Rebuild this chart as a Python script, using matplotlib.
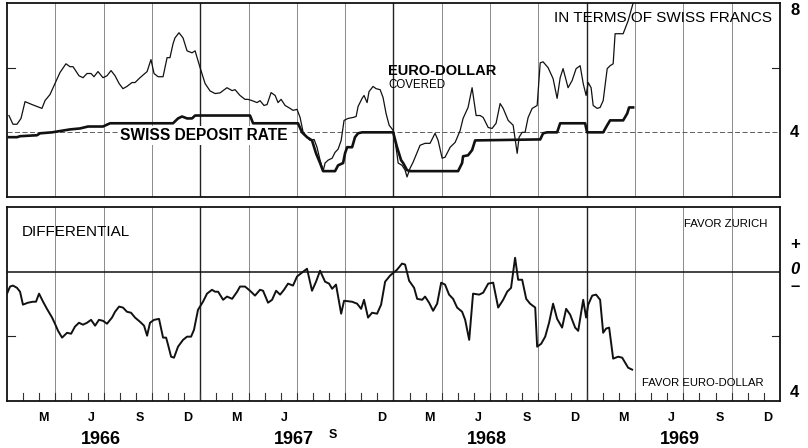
import matplotlib
matplotlib.use("Agg")
import matplotlib.pyplot as plt
import matplotlib.transforms as mtransforms
import numpy as np

plt.rcParams['font.family'] = ['Liberation Sans', 'DejaVu Sans']

# Months since Jan 1966
euro_m = [0.12, 0.37, 0.62, 0.87, 1.12, 1.55, 1.86, 2.17, 2.36, 2.67, 2.98, 3.29, 3.66, 3.91, 4.10,
          4.47, 4.72, 4.97, 5.22, 5.40, 5.65, 5.96, 6.21, 6.46, 6.71, 6.96, 7.20, 7.45, 7.76, 7.95,
          8.26, 8.70, 8.94, 9.13, 9.38, 9.69, 9.94, 10.12, 10.31, 10.43, 10.68, 10.93, 11.18, 11.49,
          11.68, 11.99, 12.30, 12.61, 12.92, 13.23, 13.66, 13.98, 14.16, 14.47, 14.78, 14.97, 15.22,
          15.53, 15.71, 15.96, 16.15, 16.40, 16.65, 16.83, 17.02, 17.27, 17.58, 17.76, 18.01, 18.20,
          18.39, 18.63, 18.82, 19.07, 19.25, 19.44, 19.63, 19.75, 19.94, 20.19, 20.37, 20.56, 20.75,
          20.93, 21.18, 21.49, 21.68, 21.80, 22.05, 22.17, 22.36, 22.48, 22.73, 22.92, 23.17, 23.35,
          23.54, 23.73, 23.98, 24.10, 24.29, 24.53, 24.72, 24.84, 25.03, 25.22, 25.47, 25.65, 25.96,
          26.27, 26.58, 26.77, 27.02, 27.20, 27.52, 27.83, 28.14, 28.32, 28.63, 28.88, 29.13, 29.38,
          29.57, 29.88, 30.12, 30.37, 30.62, 30.81, 31.12, 31.43, 31.68, 31.80, 31.99, 32.17, 32.36,
          32.61, 32.92, 33.11, 33.29, 33.60, 33.91, 34.16, 34.35, 34.53, 34.84, 35.09, 35.34, 35.59,
          35.78, 35.96, 36.09, 36.27, 36.40, 36.65, 36.83, 37.02, 37.27, 37.45, 37.64, 37.76, 38.01,
          38.26, 38.57, 38.88]
euro_rate = [4.52, 4.25, 4.25, 4.43, 4.95, 4.86, 4.80, 4.74, 4.98, 5.17, 5.51, 5.85, 6.12, 6.03, 6.03,
             5.75, 5.69, 5.82, 5.82, 5.72, 5.88, 5.69, 5.75, 5.91, 5.75, 5.51, 5.35, 5.42, 5.54, 5.54,
             5.69, 5.88, 6.25, 5.82, 5.72, 5.72, 6.31, 6.31, 6.74, 6.92, 7.08, 6.92, 6.52, 6.46,
             6.52, 6.00, 5.51, 5.28, 5.20, 5.22, 5.38, 5.29, 5.32, 5.14, 5.02, 5.02, 4.98,
             4.92, 4.98, 4.83, 4.86, 5.23, 5.14, 4.92, 5.02, 4.83, 4.74, 4.68, 4.71, 4.46,
             4.00, 3.85, 3.75, 3.78, 3.54, 3.14, 2.80, 3.05, 3.14, 3.20, 3.38, 3.48, 3.75,
             4.37, 4.43, 4.46, 4.49, 4.80, 5.05, 5.14, 4.92, 5.26, 5.42, 5.35, 5.32, 5.08,
             4.58, 4.22, 4.06, 3.75, 3.05, 2.98, 2.83, 2.62, 2.89, 3.08, 3.38, 3.60, 3.66,
             3.66, 3.97, 3.75, 3.20, 3.23, 3.54, 3.69, 4.06, 4.43, 4.77, 5.38, 4.52, 4.52,
             4.46, 4.15, 4.12, 4.28, 4.89, 4.74, 4.37, 4.22, 3.35, 3.85, 4.00, 4.00, 4.46,
             4.74, 4.83, 6.15, 6.18, 6.00, 5.66, 5.05, 5.69, 5.97, 5.38, 5.60, 5.97, 6.06,
             5.51, 5.14, 5.54, 5.38, 4.83, 4.74, 4.77, 4.98, 5.97, 6.06, 6.12, 7.05, 7.05,
             7.05, 7.45, 8.00]

swiss_m = [0.12, 0.62, 0.81, 1.86, 2.05, 2.80, 3.17, 3.91, 4.53, 5.03, 5.96, 6.40, 10.31, 10.62,
           10.87, 11.18, 11.49, 11.68, 15.09, 15.28, 18.07, 18.32, 18.63, 18.94, 19.19, 19.44,
           19.63, 20.37, 20.56, 20.87, 20.99, 21.12, 21.43, 21.61, 21.80, 22.05, 23.98, 24.22,
           24.47, 24.60, 24.84, 25.03, 28.01, 28.26, 28.32, 28.63, 28.88, 29.07, 32.92, 33.11,
           33.29, 33.54, 34.16, 34.35, 35.90, 36.02, 37.02, 37.27, 37.45, 38.26, 38.51, 38.63, 38.88]
swiss_rate = [3.85, 3.85, 3.88, 3.91, 3.97, 4.00, 4.03, 4.09, 4.12, 4.18, 4.18, 4.28, 4.28, 4.43,
              4.49, 4.43, 4.43, 4.52, 4.52, 4.28, 4.28, 4.00, 3.85, 3.75, 3.35, 3.05,
              2.80, 2.80, 2.98, 3.05, 3.35, 3.54, 3.54, 3.85, 3.97, 4.00, 4.00, 3.54,
              3.14, 3.05, 2.83, 2.80, 2.80, 3.05, 3.26, 3.29, 3.45, 3.75, 3.78, 3.78,
              3.97, 4.00, 4.00, 4.28, 4.28, 4.00, 4.00, 4.22, 4.37, 4.37, 4.58, 4.77, 4.77]

diff_m = [0.00, 0.19, 0.37, 0.62, 0.81, 0.99, 1.30, 1.61, 1.80, 1.99, 2.24, 2.48, 2.80, 2.98, 3.17,
          3.42, 3.73, 3.98, 4.22, 4.47, 4.72, 4.97, 5.22, 5.47, 5.71, 5.96, 6.21, 6.52, 6.71, 6.96,
          7.20, 7.45, 7.70, 7.95, 8.26, 8.51, 8.70, 8.88, 9.13, 9.44, 9.69, 9.88, 10.00, 10.19,
          10.37, 10.62, 10.93, 11.18, 11.43, 11.61, 11.86, 12.17, 12.42, 12.73, 12.92, 13.11,
          13.42, 13.66, 13.98, 14.29, 14.47, 14.78, 15.09, 15.40, 15.71, 15.90, 16.21, 16.46,
          16.71, 16.96, 17.20, 17.45, 17.76, 18.01, 18.39, 18.63, 18.94, 19.19, 19.44, 19.75,
          20.00, 20.19, 20.43, 20.75, 20.93, 21.43, 21.74, 21.99, 22.17, 22.42, 22.67, 22.98,
          23.23, 23.48, 23.79, 24.22, 24.53, 24.72, 24.97, 25.28, 25.47, 25.78, 25.96, 26.21,
          26.46, 26.71, 26.96, 27.20, 27.45, 27.70, 27.95, 28.26, 28.45, 28.70, 28.94, 29.32,
          29.57, 29.88, 30.19, 30.50, 30.81, 31.06, 31.30, 31.55, 31.74, 31.99, 32.24, 32.48,
          32.80, 32.92, 33.17, 33.42, 33.66, 33.91, 34.16, 34.47, 34.72, 34.97, 35.28, 35.47,
          35.78, 35.96, 36.09, 36.34, 36.58, 36.83, 37.02, 37.20, 37.39, 37.64, 37.95, 38.20,
          38.39, 38.57, 38.82]
diff_val = [-0.68, -0.46, -0.43, -0.50, -0.62, -1.02, -0.96, -0.93, -0.93, -0.68, -0.93, -1.15, -1.42, -1.61, -1.83,
            -2.04, -1.89, -1.92, -1.70, -1.58, -1.64, -1.58, -1.49, -1.67, -1.49, -1.52, -1.61, -1.42, -1.24, -1.08,
            -1.11, -1.24, -1.27, -1.42, -1.55, -1.67, -1.98, -1.58, -1.49, -1.46, -2.04, -2.04, -2.26, -2.63,
            -2.66, -2.32, -2.11, -2.01, -2.01, -1.80, -1.18, -0.93, -0.68, -0.56, -0.62, -0.62,
            -0.87, -0.77, -0.84, -0.62, -0.46, -0.46, -0.59, -0.74, -0.56, -0.59, -0.96, -0.87,
            -0.59, -0.71, -0.56, -0.37, -0.43, -0.15, 0.00, 0.09, -0.59, -0.31, 0.03, -0.31,
            -0.37, -0.53, -0.40, -1.30, -0.90, -0.93, -0.99, -1.15, -0.87, -1.42, -1.27, -1.30,
            -1.02, -0.31, -0.12, 0.06, 0.25, 0.22, -0.28, -0.50, -0.84, -0.87, -0.77, -0.96,
            -1.21, -0.99, -0.34, -0.40, -0.71, -0.84, -1.11, -1.24, -1.49, -2.11, -0.68, -0.71,
            -0.65, -0.37, -0.34, -1.11, -0.87, -0.62, -0.50, 0.43, -0.25, -0.25, -0.84, -0.99,
            -1.11, -2.32, -2.23, -2.01, -1.58, -0.99, -1.46, -1.73, -1.15, -1.33, -1.73, -1.83,
            -0.87, -1.42, -1.02, -0.74, -0.71, -0.87, -1.89, -1.76, -1.73, -2.69, -2.63, -2.66,
            -2.82, -2.97, -3.03]

years = ['1966', '1967', '1968', '1969']
month_letters = ['M', 'J', 'S', 'D']

fig = plt.figure(figsize=(8.08, 4.48), dpi=100)
ax1 = fig.add_axes([7/808, 1-197/448, 773/808, 194/448])
ax2 = fig.add_axes([7/808, 1-401/448, 773/808, 194/448])

for ax in (ax1, ax2):
    ax.set_xlim(0, 48)
    ax.set_xticks([])
    ax.set_yticks([])
    for s in ax.spines.values():
        s.set_linewidth(1.3)
        s.set_color('#111111')
    # quarterly grid lines, year lines darker
    for q in range(3, 48, 3):
        if q % 12 == 0:
            ax.axvline(q, color='#222222', lw=1.0, zorder=1)
        else:
            ax.axvline(q, color='#777777', lw=0.6, zorder=1)

ax1.set_ylim(2, 8)
ax2.set_ylim(-4, 2)

# top panel
ax1.axhline(4, color='#444444', lw=0.6, ls=(0, (6, 3)), zorder=1)
ax1.plot([0, 0.5], [6, 6], color='#222222', lw=0.8)
ax1.plot([47.5, 48], [6, 6], color='#222222', lw=0.8)
ax1.plot(euro_m, euro_rate, color='#111111', lw=0.9, zorder=3)
ax1.plot(swiss_m, swiss_rate, color='#111111', lw=1.9, zorder=3)

ax1.text(12.24, 3.91, 'SWISS DEPOSIT RATE', fontsize=11.2, fontweight='bold', ha='center', va='center',
         zorder=2, bbox=dict(facecolor='white', edgecolor='none', pad=1.5))
ax1.text(23.66, 5.91, 'EURO-DOLLAR', fontsize=10.5, fontweight='bold', ha='left', va='center', zorder=4)
ax1.text(23.66, 5.45, 'COVERED', fontsize=8.3, ha='left', va='center', zorder=4)
ax1.text(47.5, 7.54, 'IN TERMS OF SWISS FRANCS', fontsize=11, ha='right', va='center', zorder=2)

tr1 = mtransforms.blended_transform_factory(ax1.transAxes, ax1.transData)
ax1.text(1.019, 7.78, '8', transform=tr1, fontsize=12, fontweight='bold', ha='center', va='center')
ax1.text(1.019, 4.0, '4', transform=tr1, fontsize=12, fontweight='bold', ha='center', va='center')

# bottom panel
ax2.axhline(0, color='#111111', lw=1.1, zorder=2)
ax2.plot([0, 0.5], [-2, -2], color='#222222', lw=0.8)
ax2.plot([47.5, 48], [-2, -2], color='#222222', lw=0.8)
ax2.plot(diff_m, diff_val, color='#111111', lw=1.4, zorder=3)
for mth in range(1, 48):
    ax2.plot([mth, mth], [-4, -3.75], color='#333333', lw=0.8, zorder=2)

ax2.text(0.93, 1.24, 'DIFFERENTIAL', fontsize=11, ha='left', va='center')
ax2.text(47.2, 1.46, 'FAVOR ZURICH', fontsize=8.2, ha='right', va='center')
ax2.text(47.0, -3.44, 'FAVOR EURO-DOLLAR', fontsize=8.1, ha='right', va='center')

tr2 = mtransforms.blended_transform_factory(ax2.transAxes, ax2.transData)
ax2.text(1.019, 0.84, '+', transform=tr2, fontsize=12, fontweight='bold', ha='center', va='center')
ax2.text(1.019, 0.06, '0', transform=tr2, fontsize=12, fontweight='bold', style='italic',
         ha='center', va='center')
ax2.text(1.019, -0.46, '\u2013', transform=tr2, fontsize=12, fontweight='bold', ha='center', va='center')
ax2.text(1.019, -3.75, '4', transform=tr2, fontsize=12, fontweight='bold', ha='center', va='center')

# month and year labels
trx = mtransforms.blended_transform_factory(ax2.transData, ax2.transAxes)
for yi, yr in enumerate(years):
    for k, lab in enumerate(month_letters):
        xm = yi * 12 + 2.25 + 3 * k
        yy = -0.088
        if yr == '1967' and lab == 'S':
            yy = -0.175
        ax2.text(xm, yy, lab, transform=trx, fontsize=9, fontweight='bold', ha='center', va='center')
    ax2.text(yi * 12 + 5.8, -0.196, yr, transform=trx, fontsize=13, fontweight='bold',
             ha='center', va='center')

fig.savefig('out.png', dpi=100)
